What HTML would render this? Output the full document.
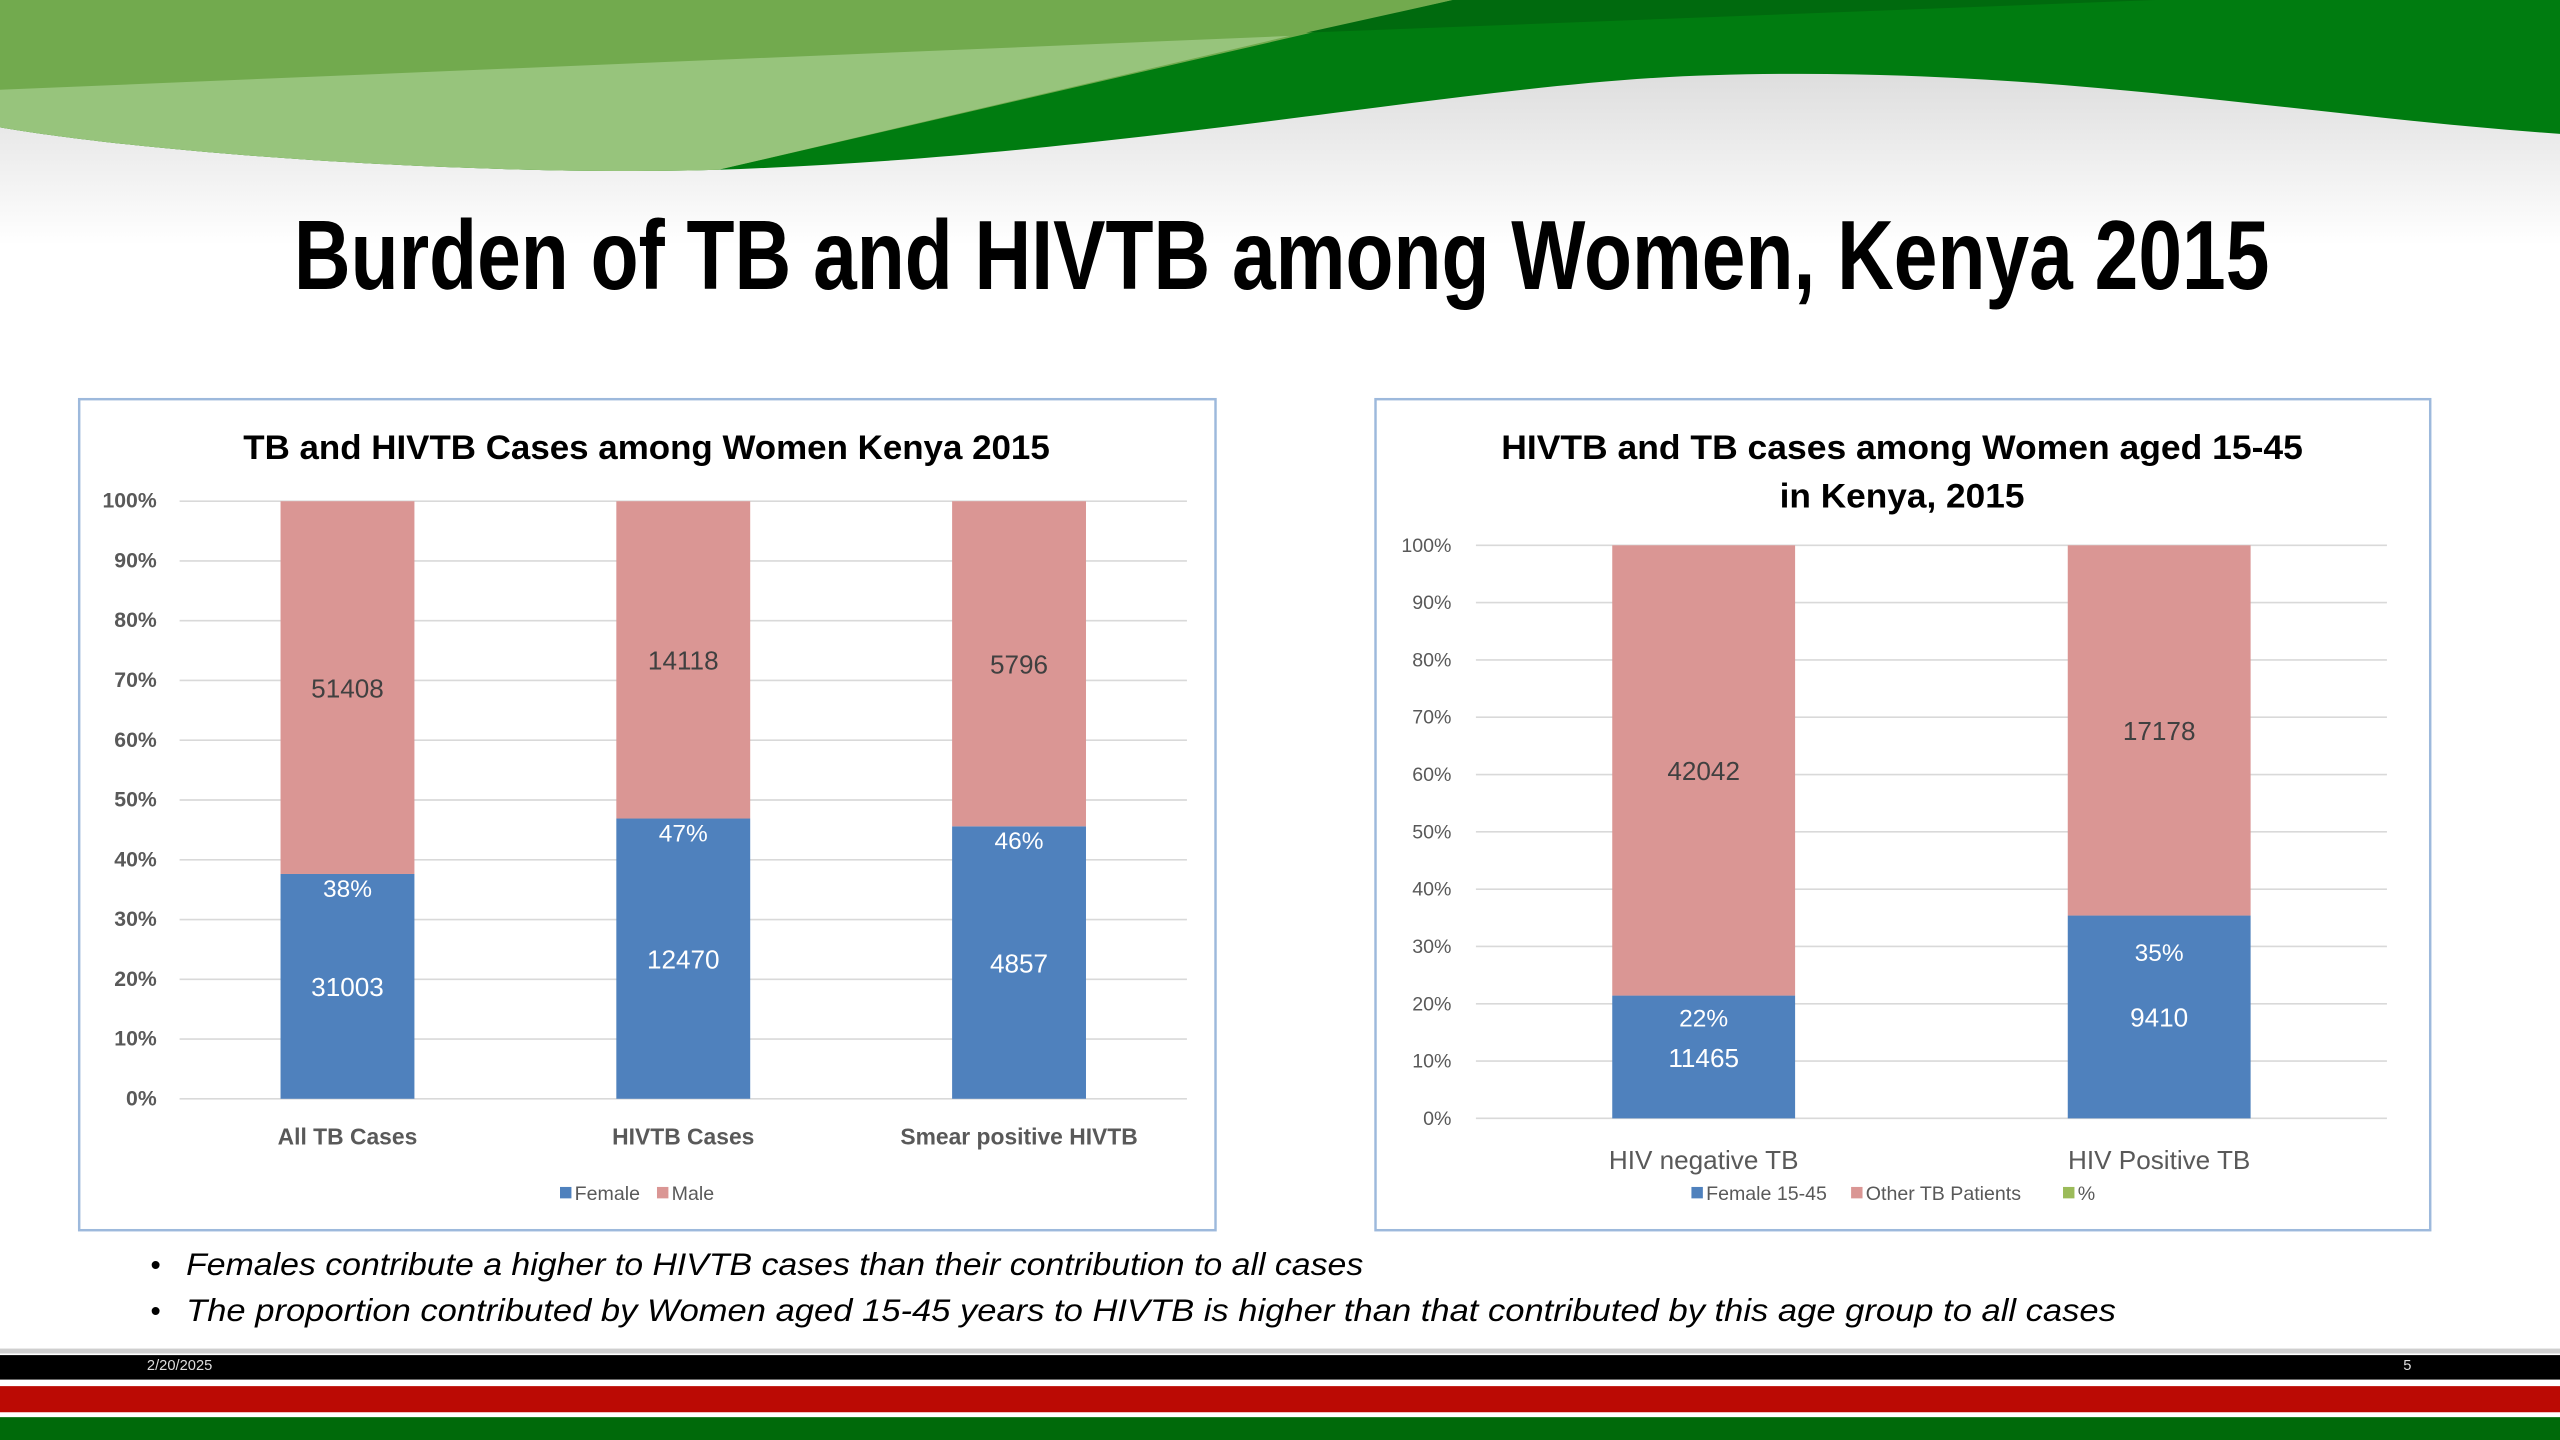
<!DOCTYPE html>
<html><head><meta charset="utf-8"><style>
html,body{margin:0;padding:0;background:#fff;overflow:hidden}
svg{display:block}
text{font-family:"Liberation Sans",sans-serif}
</style></head><body>
<svg id="slide" width="2560" height="1440" viewBox="0 0 1568 882" preserveAspectRatio="none" xmlns="http://www.w3.org/2000/svg">
<defs>
<linearGradient id="shadow" x1="0" y1="0" x2="0" y2="1">
<stop offset="0" stop-color="#dcdcdc"/><stop offset="1" stop-color="#ffffff"/>
</linearGradient>
</defs>
<g>
<rect x="0" y="40" width="1568" height="110" fill="url(#shadow)"/>
<path d="M0,0 H1568 V82 C1400,70 1250,40 1050,46 C900,50 700,95 440,104 C300,108 100,95 0,78 Z" fill="#007c10"/>
<path d="M0,0 H890 L440,104 C300,108 100,95 0,78 Z" fill="#72aa4e"/>
<path d="M0,55 L790,22 L440,104 C300,108 100,95 0,78 Z" fill="#97c47c"/>
<path d="M800,20 L890,0 H1320 Z" fill="#006a0e"/>
</g>
<text x="180" y="177" font-size="60" font-weight="bold" fill="#000" textLength="1210" lengthAdjust="spacingAndGlyphs">Burden of TB and HIVTB among Women, Kenya 2015</text>

<g id="chart1">
<rect x="48.5" y="244.5" width="696" height="509" fill="#fff" stroke="#9db9dc" stroke-width="1.5"/>
<text x="396" y="281" text-anchor="middle" font-size="21" font-weight="bold" fill="#000" textLength="494" lengthAdjust="spacingAndGlyphs">TB and HIVTB Cases among Women Kenya 2015</text>
</g>
<g id="chart2">
<rect x="842.5" y="244.5" width="646" height="509" fill="#fff" stroke="#9db9dc" stroke-width="1.5"/>
<text x="1165" y="281" text-anchor="middle" font-size="21" font-weight="bold" fill="#000" textLength="491" lengthAdjust="spacingAndGlyphs">HIVTB and TB  cases among Women aged 15-45</text>
<text x="1165" y="311" text-anchor="middle" font-size="21" font-weight="bold" fill="#000" textLength="150" lengthAdjust="spacingAndGlyphs">in Kenya, 2015</text>
</g>

<g font-style="italic" fill="#000">
<text x="92" y="781" font-size="18">•</text>
<text x="114" y="781" font-size="19" textLength="721" lengthAdjust="spacingAndGlyphs">Females contribute a higher to HIVTB cases than their contribution to all cases</text>
<text x="92" y="809" font-size="18">•</text>
<text x="114" y="809" font-size="19" textLength="1182" lengthAdjust="spacingAndGlyphs">The proportion contributed by Women aged  15-45 years  to HIVTB is higher than that contributed by this age group to all  cases</text>
</g>

<g>
<rect x="0" y="826" width="1568" height="3" fill="#cfcfcf"/>
<rect x="0" y="830" width="1568" height="15" fill="#000"/>
<rect x="0" y="849" width="1568" height="16" fill="#bb0a04"/>
<rect x="0" y="868" width="1568" height="14" fill="#006a0a"/>
<text x="90" y="839" font-size="9" fill="#ddd">2/20/2025</text>
<text x="1472" y="839" font-size="9" fill="#ddd">5</text>
</g>
</svg>
<script>
const NS="http://www.w3.org/2000/svg";
// Left chart data
const leftCategories=["All TB  Cases","HIVTB  Cases","Smear positive HIVTB"];
const leftFemale=[31003,12470,4857];
const leftMale=[51408,14118,5796];
const leftPctLabels=["38%","47%","46%"];
// Right chart data
const rightCategories=["HIV negative TB","HIV Positive TB"];
const rightFemale=[11465,9410];
const rightOther=[42042,17178];
const rightPctLabels=["22%","35%"];
const yTicks=[0,10,20,30,40,50,60,70,80,90,100];

function mk(tag,attrs,parent,txt){const e=document.createElementNS(NS,tag);for(const k in attrs)e.setAttribute(k,attrs[k]);if(txt!==undefined)e.textContent=txt;parent.appendChild(e);return e;}

function drawChart(g,cfg){
  const yScale=p=>cfg.y0-(cfg.y0-cfg.y100)*p/100;
  const n=cfg.cats.length;
  const band=(cfg.x1-cfg.x0)/n;
  const xCenter=i=>cfg.x0+band*(i+0.5);
  yTicks.forEach(t=>{
    const y=yScale(t);
    const l=mk("line",{x1:cfg.x0,x2:cfg.x1,y1:y,y2:y,stroke:"#d9d9d9","stroke-width":1},g);
    
    
    const tx=mk("text",{x:cfg.tickX,y:y+4,"text-anchor":"end","font-size":cfg.tickSize,"font-weight":cfg.tickBold?"bold":"normal",fill:"#595959"},g,t+"%");
    
    
  });
  for(let i=0;i<n;i++){
    const tot=cfg.a[i]+cfg.b[i];
    const pa=cfg.a[i]/tot*100;
    const cx=xCenter(i);
    const bx=cx-cfg.bw/2;
    const top=yScale(pa), mid=yScale(pa/2);
    const r1=mk("rect",{x:bx,y:top,width:cfg.bw,height:yScale(0)-top,fill:"#4f81bd"},g);
    
    
    const r2=mk("rect",{x:bx,y:yScale(100),width:cfg.bw,height:top-yScale(100),fill:"#da9694"},g);
    
    
    const pctY=cfg.pctFrac?top+(mid-top)*cfg.pctFrac+5:top+14;
    const t1=mk("text",{x:cx,y:pctY,"text-anchor":"middle","font-size":15,fill:"#fff"},g,cfg.pct[i]);
    
    
    const t2=mk("text",{x:cx,y:mid+6,"text-anchor":"middle","font-size":16,fill:"#fff"},g,String(cfg.a[i]));
    
    
    const t3=mk("text",{x:cx,y:yScale((pa+100)/2)+6,"text-anchor":"middle","font-size":16,fill:"#404040"},g,String(cfg.b[i]));
    
    
    const cl=mk("text",{x:cx,y:cfg.catY,"text-anchor":"middle","font-size":cfg.catSize,"font-weight":cfg.catBold?"bold":"normal",fill:"#595959"},g,cfg.cats[i]);
    
    
  }
  let lx=cfg.legX;
  cfg.legend.forEach(([lab,col])=>{
    const sw=mk("rect",{x:lx,y:cfg.legY-8,width:7,height:7,fill:col},g);
    
    
    const lt=mk("text",{x:lx+9,y:cfg.legY,"font-size":12,fill:"#595959"},g,lab);
    
    
    lx+=9+lab.length*6.4+12;
  });
}
drawChart(document.getElementById("chart1"),{cats:leftCategories,a:leftFemale,b:leftMale,pct:leftPctLabels,
  x0:110,x1:727,y0:673,y100:307,bw:82,tickX:96,tickSize:13,tickBold:true,catY:701,catSize:14,catBold:true,
  legX:343,legY:735,legend:[["Female","#4f81bd"],["Male","#da9694"]]});
drawChart(document.getElementById("chart2"),{cats:rightCategories,a:rightFemale,b:rightOther,pct:rightPctLabels,
  x0:904,x1:1462,y0:685,y100:334,bw:112,tickX:889,tickSize:12,tickBold:false,catY:716,catSize:16,catBold:false,
  pctFrac:0.37,
  legX:1036,legY:735,legend:[["Female 15-45","#4f81bd"],["Other TB Patients","#da9694"],["%","#9bbb59"]]});
</script>
</body></html>
